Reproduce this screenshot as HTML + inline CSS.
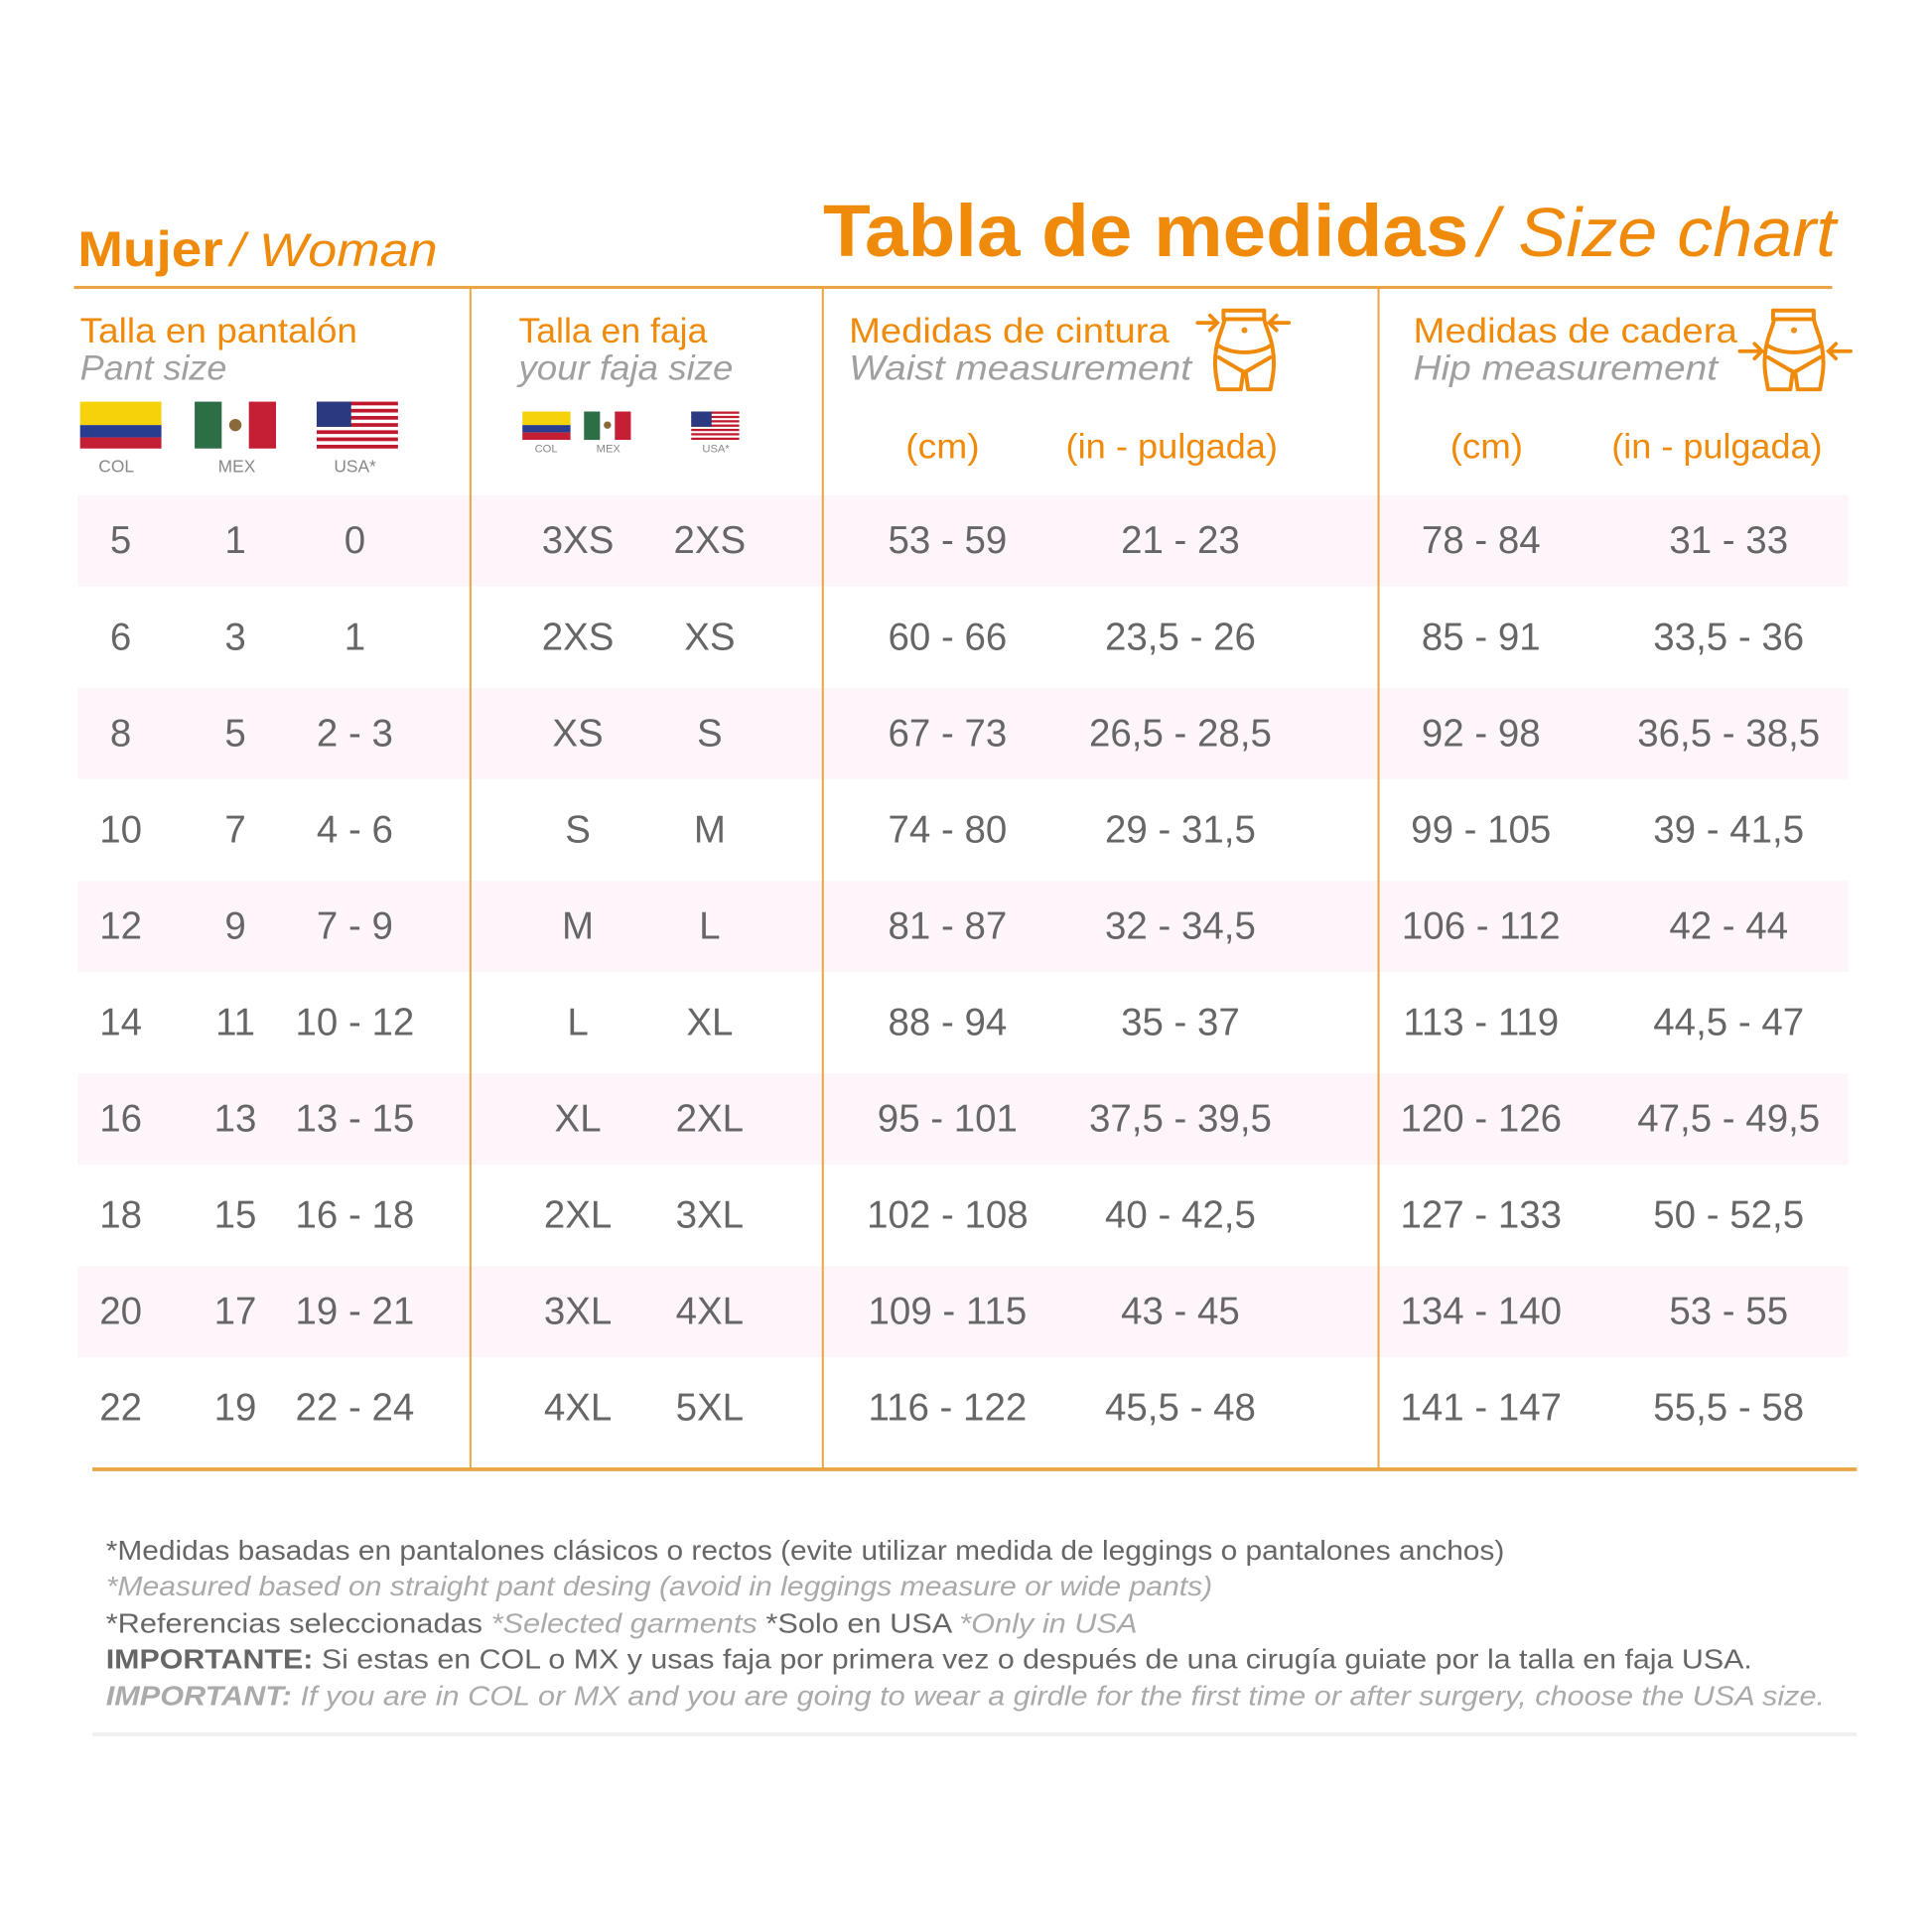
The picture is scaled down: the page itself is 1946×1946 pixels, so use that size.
<!DOCTYPE html>
<html><head><meta charset="utf-8"><style>html,body{margin:0;padding:0;background:#fff}svg{display:block}</style></head>
<body>
<svg width="1946" height="1946" viewBox="0 0 1568 1568" xmlns="http://www.w3.org/2000/svg" font-family="Liberation Sans, sans-serif">
<defs>
<g id="torso" fill="none" stroke="#ef8a0a" stroke-width="3.2" stroke-linejoin="round" stroke-linecap="round">
<path d="M11 2 L44 2 L44 9 L11 9 Z"/>
<path d="M12 9 C10 18 6 24 5 34 C3 46 5 56 7 66 L25 66 L27 52 L29 52 L31 66 L49 66 C51 56 53 46 51 34 C50 24 46 18 44 9"/>
<path d="M6 30 C18 38 38 38 50 30"/>
<path d="M7 40 L24 50 L28 52 L32 50 L49 40"/>
<circle cx="28" cy="18" r="0.8" fill="#ef8a0a"/>
</g>
<g id="usa">
<rect width="66" height="38" fill="#fff"/>
<g fill="#c0182d"><rect y="0" width="66" height="3"/><rect y="5.8" width="66" height="3"/><rect y="11.6" width="66" height="3"/><rect y="17.4" width="66" height="3"/><rect y="23.2" width="66" height="3"/><rect y="29" width="66" height="3"/><rect y="35" width="66" height="3"/></g>
<rect width="28" height="20.4" fill="#2b3a80"/>
</g>
</defs>
<text x="63" y="216" font-size="40" font-weight="bold" fill="#ef8a0a" textLength="118" lengthAdjust="spacingAndGlyphs">Mujer</text>
<text x="187" y="216" font-size="38" font-style="italic" fill="#ef8a0a" textLength="168" lengthAdjust="spacingAndGlyphs">/ Woman</text>
<text x="668" y="208" font-size="60" font-weight="bold" fill="#ef8a0a" textLength="524" lengthAdjust="spacingAndGlyphs">Tabla de medidas</text>
<text x="1200" y="208" font-size="56" font-style="italic" fill="#ef8a0a" textLength="290" lengthAdjust="spacingAndGlyphs">/ Size chart</text>
<g fill="#fdf5f9">
<rect x="63" y="402" width="1437" height="74"/>
<rect x="63" y="558.4" width="1437" height="74"/>
<rect x="63" y="714.8" width="1437" height="74"/>
<rect x="63" y="871.2" width="1437" height="74"/>
<rect x="63" y="1027.6" width="1437" height="74"/>
</g>
<rect x="60" y="232" width="1427" height="2.5" fill="#e9a543"/>
<rect x="381" y="233" width="1.6" height="960" fill="#e9a543"/>
<rect x="667" y="233" width="1.6" height="960" fill="#e9a543"/>
<rect x="1118" y="233" width="1.6" height="960" fill="#e9a543"/>
<rect x="75" y="1191" width="1432" height="3" fill="#e9a543"/>
<rect x="75" y="1406" width="1432" height="3" fill="#efefef"/>
<g font-size="28" fill="#ef8a0a">
<text x="65" y="278" textLength="225" lengthAdjust="spacingAndGlyphs">Talla en pantalón</text>
<text x="421" y="278" textLength="153" lengthAdjust="spacingAndGlyphs">Talla en faja</text>
<text x="689" y="278" textLength="260" lengthAdjust="spacingAndGlyphs">Medidas de cintura</text>
<text x="1147" y="278" textLength="263" lengthAdjust="spacingAndGlyphs">Medidas de cadera</text>
<text x="735" y="372" textLength="60" lengthAdjust="spacingAndGlyphs">(cm)</text>
<text x="865" y="372" textLength="172" lengthAdjust="spacingAndGlyphs">(in - pulgada)</text>
<text x="1177" y="372" textLength="59" lengthAdjust="spacingAndGlyphs">(cm)</text>
<text x="1308" y="372" textLength="171" lengthAdjust="spacingAndGlyphs">(in - pulgada)</text>
</g>
<g font-size="28" fill="#a0a0a0" font-style="italic">
<text x="65" y="308" textLength="119" lengthAdjust="spacingAndGlyphs">Pant size</text>
<text x="421" y="308" textLength="174" lengthAdjust="spacingAndGlyphs">your faja size</text>
<text x="689" y="308" textLength="278" lengthAdjust="spacingAndGlyphs">Waist measurement</text>
<text x="1147" y="308" textLength="247" lengthAdjust="spacingAndGlyphs">Hip measurement</text>
</g>
<use href="#torso" x="982" y="250"/>
<g stroke="#ef8a0a" stroke-width="3" fill="none" stroke-linecap="round">
<path d="M972 262 L988 262 M982 256 L988 262 L982 268"/>
<path d="M1046 262 L1030 262 M1036 256 L1030 262 L1036 268"/>
</g>
<use href="#torso" x="1428" y="250"/>
<g stroke="#ef8a0a" stroke-width="3" fill="none" stroke-linecap="round">
<path d="M1412 285 L1430 285 M1424 279 L1430 285 L1424 291"/>
<path d="M1502 285 L1484 285 M1490 279 L1484 285 L1490 291"/>
</g>
<rect x="65" y="326" width="66" height="19" fill="#f5d20a"/><rect x="65" y="345" width="66" height="10" fill="#283c90"/><rect x="65" y="355" width="66" height="9" fill="#c41f35"/>
<rect x="158" y="326" width="22" height="38" fill="#2c6e45"/><rect x="180" y="326" width="22" height="38" fill="#fff"/><rect x="202" y="326" width="22" height="38" fill="#c41f35"/><circle cx="191" cy="345" r="5" fill="#8a6a3a"/>
<use href="#usa" x="257" y="326"/>
<g font-size="14" fill="#888"><text x="80" y="383">COL</text><text x="177" y="383">MEX</text><text x="271" y="383">USA*</text></g>
<rect x="424" y="334" width="39" height="11" fill="#f5d20a"/><rect x="424" y="345" width="39" height="6" fill="#283c90"/><rect x="424" y="351" width="39" height="6" fill="#c41f35"/>
<rect x="474" y="334" width="13" height="23" fill="#2c6e45"/><rect x="487" y="334" width="12" height="23" fill="#fff"/><rect x="499" y="334" width="13" height="23" fill="#c41f35"/><circle cx="493" cy="345" r="3" fill="#8a6a3a"/>
<g transform="translate(561,334) scale(0.59,0.605)"><use href="#usa"/></g>
<g font-size="9" fill="#888"><text x="434" y="367">COL</text><text x="484" y="367">MEX</text><text x="570" y="367">USA*</text></g>
<g font-size="31" fill="#666" text-anchor="middle">
<g transform="translate(0,449)"><text x="98">5</text><text x="191">1</text><text x="288">0</text><text x="469">3XS</text><text x="576">2XS</text><text x="769">53 - 59</text><text x="958">21 - 23</text><text x="1202">78 - 84</text><text x="1403">31 - 33</text></g>
<g transform="translate(0,527.2)"><text x="98">6</text><text x="191">3</text><text x="288">1</text><text x="469">2XS</text><text x="576">XS</text><text x="769">60 - 66</text><text x="958">23,5 - 26</text><text x="1202">85 - 91</text><text x="1403">33,5 - 36</text></g>
<g transform="translate(0,605.4)"><text x="98">8</text><text x="191">5</text><text x="288">2 - 3</text><text x="469">XS</text><text x="576">S</text><text x="769">67 - 73</text><text x="958">26,5 - 28,5</text><text x="1202">92 - 98</text><text x="1403">36,5 - 38,5</text></g>
<g transform="translate(0,683.6)"><text x="98">10</text><text x="191">7</text><text x="288">4 - 6</text><text x="469">S</text><text x="576">M</text><text x="769">74 - 80</text><text x="958">29 - 31,5</text><text x="1202">99 - 105</text><text x="1403">39 - 41,5</text></g>
<g transform="translate(0,761.8)"><text x="98">12</text><text x="191">9</text><text x="288">7 - 9</text><text x="469">M</text><text x="576">L</text><text x="769">81 - 87</text><text x="958">32 - 34,5</text><text x="1202">106 - 112</text><text x="1403">42 - 44</text></g>
<g transform="translate(0,840)"><text x="98">14</text><text x="191">11</text><text x="288">10 - 12</text><text x="469">L</text><text x="576">XL</text><text x="769">88 - 94</text><text x="958">35 - 37</text><text x="1202">113 - 119</text><text x="1403">44,5 - 47</text></g>
<g transform="translate(0,918.2)"><text x="98">16</text><text x="191">13</text><text x="288">13 - 15</text><text x="469">XL</text><text x="576">2XL</text><text x="769">95 - 101</text><text x="958">37,5 - 39,5</text><text x="1202">120 - 126</text><text x="1403">47,5 - 49,5</text></g>
<g transform="translate(0,996.4)"><text x="98">18</text><text x="191">15</text><text x="288">16 - 18</text><text x="469">2XL</text><text x="576">3XL</text><text x="769">102 - 108</text><text x="958">40 - 42,5</text><text x="1202">127 - 133</text><text x="1403">50 - 52,5</text></g>
<g transform="translate(0,1074.6)"><text x="98">20</text><text x="191">17</text><text x="288">19 - 21</text><text x="469">3XL</text><text x="576">4XL</text><text x="769">109 - 115</text><text x="958">43 - 45</text><text x="1202">134 - 140</text><text x="1403">53 - 55</text></g>
<g transform="translate(0,1152.8)"><text x="98">22</text><text x="191">19</text><text x="288">22 - 24</text><text x="469">4XL</text><text x="576">5XL</text><text x="769">116 - 122</text><text x="958">45,5 - 48</text><text x="1202">141 - 147</text><text x="1403">55,5 - 58</text></g>
</g>
<g font-size="22">
<text x="86" y="1266" fill="#666" textLength="1135" lengthAdjust="spacingAndGlyphs">*Medidas basadas en pantalones clásicos o rectos (evite utilizar medida de leggings o pantalones anchos)</text>
<text x="86" y="1295" fill="#aaa" font-style="italic" textLength="898" lengthAdjust="spacingAndGlyphs">*Measured based on straight pant desing (avoid in leggings measure or wide pants)</text>
<text x="86" y="1325" fill="#666" textLength="837" lengthAdjust="spacingAndGlyphs">*Referencias seleccionadas <tspan fill="#aaa" font-style="italic">*Selected garments</tspan> *Solo en USA <tspan fill="#aaa" font-style="italic">*Only in USA</tspan></text>
<text x="86" y="1354" fill="#666" textLength="1336" lengthAdjust="spacingAndGlyphs"><tspan font-weight="bold">IMPORTANTE:</tspan> Si estas en COL o MX y usas faja por primera vez o después de una cirugía guiate por la talla en faja USA.</text>
<text x="86" y="1384" fill="#aaa" font-style="italic" textLength="1395" lengthAdjust="spacingAndGlyphs"><tspan font-weight="bold">IMPORTANT:</tspan> If you are in COL or MX and you are going to wear a girdle for the first time or after surgery, choose the USA size.</text>
</g>
</svg>
</body></html>
